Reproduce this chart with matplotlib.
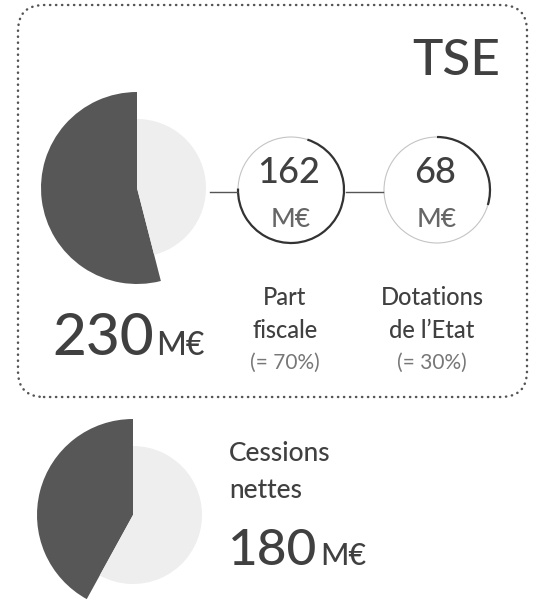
import matplotlib.pyplot as plt
from matplotlib.patches import Arc, Circle, FancyBboxPatch

plt.rcParams['font.family'] = ['Lato', 'DejaVu Sans']
plt.rcParams['font.weight'] = 'medium'

# data
tse_pie = [54, 46]          # dark share / light share (%)
cessions_pie = [42, 58]
tse_total = 230
cessions_total = 180
parts = [162, 68]
part_labels = [['Part', 'fiscale'], ['Dotations', 'de l\u2019Etat']]
part_pct = ['(= 70%)', '(= 30%)']

W, H = 538, 602
dark = '#575757'
light = '#eeeeee'
txt = '#404040'

fig = plt.figure(figsize=(W / 100, H / 100), dpi=100)
ax = fig.add_axes([0, 0, 1, 1])

def Y(y):
    # pixel row -> data y (y up)
    return H - y

# pies
for vals, (cx, cy) in [(tse_pie, (137, 188)), (cessions_pie, (133, 515))]:
    wedges, _ = ax.pie(vals, colors=[dark, light], startangle=90,
                       counterclock=True, radius=96, center=(cx, Y(cy)),
                       wedgeprops=dict(linewidth=0))
    wedges[1].set_radius(69)

# dotted rounded frame around the TSE block
frame = FancyBboxPatch((18, Y(397)), 509, 392,
                       boxstyle='round,pad=0,rounding_size=26',
                       fill=False, edgecolor='#555555', linewidth=1.8,
                       linestyle=(0, (0.1, 2.3)), capstyle='round')
ax.add_patch(frame)

ax.text(500, Y(75), 'TSE', ha='right', va='baseline', fontsize=37, color=txt)

# rings for the two parts
centers = [(291, 190), (437, 190)]
starts = [72, 90]
r = 53
for val, (cx, cy), st in zip(parts, centers, starts):
    ax.add_patch(Circle((cx, Y(cy)), r, fill=False, edgecolor='#c4c4c4', linewidth=0.8))
    ext = 360 * val / tse_total
    ax.add_patch(Arc((cx, Y(cy)), 2 * r, 2 * r, theta1=st - ext, theta2=st,
                     edgecolor='#333333', linewidth=1.6))
    ax.text(cx - 2, Y(183), str(val), ha='center', va='baseline', fontsize=26, color=txt)
    ax.text(cx, Y(227), 'M\u20ac', ha='center', va='baseline', fontsize=19, color='#666666')

# connectors
ax.plot([210, 237], [Y(192), Y(192)], color='#555555', linewidth=1)
ax.plot([346, 383], [Y(192), Y(192)], color='#555555', linewidth=1)

# labels under the rings
for (cx, cy), lines, pct, dx in zip(centers, part_labels, part_pct, [-6, -5]):
    ax.text(cx + dx, Y(305), lines[0], ha='center', va='baseline', fontsize=17, color=txt)
    ax.text(cx + dx, Y(338), lines[1], ha='center', va='baseline', fontsize=17, color=txt)
    ax.text(cx + dx, Y(369), pct, ha='center', va='baseline', fontsize=15,
            color='#777777', fontweight='normal')

# totals
ax.text(52, Y(355), str(tse_total), ha='left', va='baseline', fontsize=42, color=txt)
ax.text(156, Y(355), 'M\u20ac', ha='left', va='baseline', fontsize=23, color=txt)

ax.text(229, Y(461), 'Cessions', ha='left', va='baseline', fontsize=19, color=txt)
ax.text(229, Y(498), 'nettes', ha='left', va='baseline', fontsize=19, color=txt)
ax.text(228, Y(565), str(cessions_total), ha='left', va='baseline', fontsize=37, color=txt)
ax.text(320, Y(565), 'M\u20ac', ha='left', va='baseline', fontsize=22, color=txt)

ax.set_xlim(0, W)
ax.set_ylim(0, H)
ax.set_aspect('equal')
ax.axis('off')

fig.savefig('out.png', dpi=100, facecolor='white')
